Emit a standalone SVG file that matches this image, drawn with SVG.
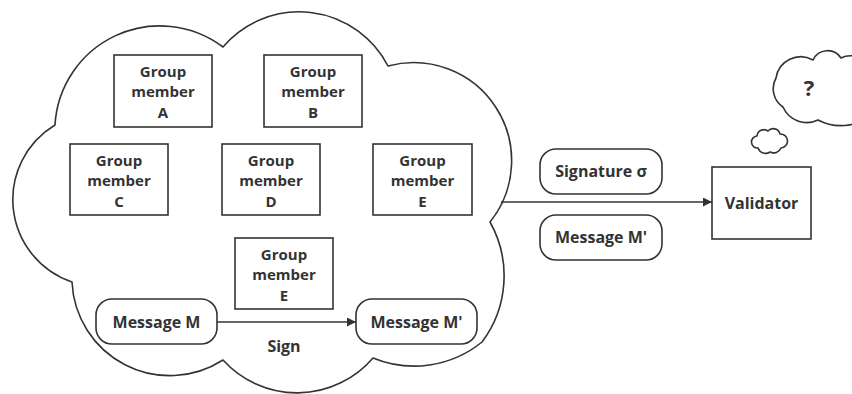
<svg xmlns="http://www.w3.org/2000/svg" width="852" height="394" viewBox="0 0 852 394">
<defs>
<style>
.ln{fill:none;stroke:#333;stroke-width:1.6;stroke-linejoin:round}
.bx{fill:#fff;stroke:#333;stroke-width:1.6}
.t{font-family:"Open Sans","Liberation Sans",sans-serif;font-weight:700;font-size:16px;fill:#333;text-anchor:middle}
.m{font-size:15px}
</style>
<marker id="ah" viewBox="0 0 10 10" refX="10" refY="5" markerWidth="11" markerHeight="9" markerUnits="userSpaceOnUse" orient="auto">
<path d="M0,0 L10,5 L0,10 Z" fill="#333"/>
</marker>
</defs>
<rect width="852" height="394" fill="#fff"/>
<g id="cloud">
<path class="ln" d="M55,125 A105,105 0 0 1 223,47 A100,100 0 0 1 388,66 A98,98 0 0 1 490,222 A110,110 0 0 1 482,342 A108,108 0 0 1 373,358 A100,100 0 0 1 223,360 A98,98 0 0 1 72,282 A87,87 0 0 1 55,125 Z"/>
</g>
<g id="thought-big">
<path class="ln" d="M783,107 A22,22 0 0 1 776,78 A25,25 0 0 1 813,60 A16,16 0 0 1 841,58 A20,20 0 0 1 870,75 L870,116 A49,49 0 0 1 818,120 A26,26 0 0 1 783,107 Z"/>
<text class="t" x="809" y="96" style="font-size:22px">?</text>
</g>
<g id="thought-small">
<path class="ln" d="M758,148 A6,6 0 0 1 757,136 A7,7 0 0 1 768,131 A7,7 0 0 1 780,134 A7,7 0 0 1 781,148 A8,8 0 0 1 770,152 A8,8 0 0 1 758,148 Z"/>
</g>
<g id="member-a">
<rect class="bx" x="114" y="55" width="98" height="72"/>
<text class="t m" x="163" y="76.5">Group</text><text class="t m" x="163" y="97">member</text><text class="t m" x="163" y="117.5">A</text>
</g>
<g id="member-b">
<rect class="bx" x="264" y="55" width="98" height="72"/>
<text class="t m" x="313" y="76.5">Group</text><text class="t m" x="313" y="97">member</text><text class="t m" x="313" y="117.5">B</text>
</g>
<g id="member-c">
<rect class="bx" x="70" y="144" width="98" height="71"/>
<text class="t m" x="119" y="165.5">Group</text><text class="t m" x="119" y="186">member</text><text class="t m" x="119" y="206.5">C</text>
</g>
<g id="member-d">
<rect class="bx" x="222" y="144" width="98" height="71"/>
<text class="t m" x="271" y="165.5">Group</text><text class="t m" x="271" y="186">member</text><text class="t m" x="271" y="206.5">D</text>
</g>
<g id="member-e1">
<rect class="bx" x="373" y="144" width="99" height="71"/>
<text class="t m" x="422.5" y="165.5">Group</text><text class="t m" x="422.5" y="186">member</text><text class="t m" x="422.5" y="206.5">E</text>
</g>
<g id="member-e2">
<rect class="bx" x="235" y="238" width="98" height="71"/>
<text class="t m" x="284" y="259.5">Group</text><text class="t m" x="284" y="280">member</text><text class="t m" x="284" y="300.5">E</text>
</g>
<g id="message-m">
<rect class="bx" x="96" y="299" width="121" height="45" rx="16"/>
<text class="t" x="156.5" y="327.5">Message M</text>
</g>
<g id="message-m-prime-inner">
<rect class="bx" x="356" y="299" width="121" height="45" rx="16"/>
<text class="t" x="416.5" y="327.5">Message M'</text>
</g>
<g id="signature">
<rect class="bx" x="540" y="149" width="122" height="45" rx="16"/>
<text class="t" x="601" y="177">Signature σ</text>
</g>
<g id="message-m-prime-outer">
<rect class="bx" x="540" y="215" width="122" height="45" rx="16"/>
<text class="t" x="601" y="243">Message M'</text>
</g>
<g id="validator">
<rect class="bx" x="712" y="167" width="99" height="72"/>
<text class="t" x="761.5" y="208.5">Validator</text>
</g>
<g id="connectors">
<line class="ln" x1="217" y1="322" x2="356" y2="322" marker-end="url(#ah)"/>
<text class="t" x="284" y="352">Sign</text>
<line class="ln" x1="501" y1="202" x2="712" y2="202" marker-end="url(#ah)"/>
</g>
</svg>
